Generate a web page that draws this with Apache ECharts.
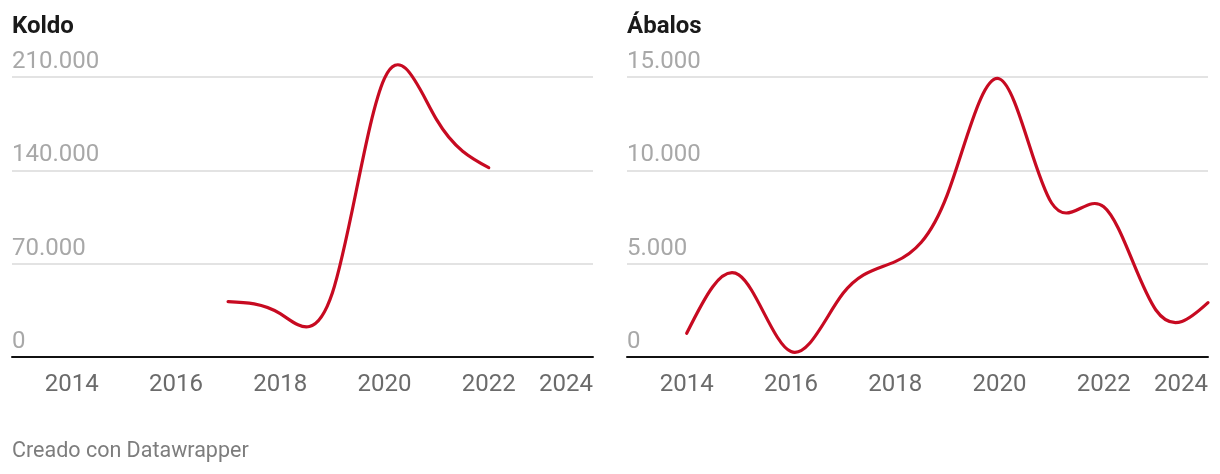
<!DOCTYPE html>
<html>
<head>
<meta charset="utf-8">
<script src="https://cdn.jsdelivr.net/npm/echarts@6/dist/echarts.min.js"></script>
<style>
  html, body { margin: 0; padding: 0; background: #ffffff; }
  #chart { width: 1220px; height: 474px; }
</style>
</head>
<body>
<div id="chart"></div>
<script>
// ---- data ----
const panelTitles = ['Koldo', 'Ábalos'];
const xTickYears = [2014, 2016, 2018, 2020, 2022, 2024];
const koldoYears = [2017, 2018, 2019, 2020, 2021, 2022];
const koldoValues = [41500, 32500, 48000, 209000, 178000, 142000];
const abalosYears = [2014, 2015, 2016, 2017, 2018, 2019, 2020, 2021, 2022, 2023, 2024];
const abalosValues = [1270, 4400, 290, 3410, 5110, 8700, 14900, 8250, 8050, 2520, 2910];
const koldoYMax = 210000, koldoYStep = 70000;
const abalosYMax = 15000, abalosYStep = 5000;
const footerText = 'Creado con Datawrapper';

// ---- helpers ----
const FONT = 'Roboto, "Noto Sans", sans-serif';
const RED = '#c70a21';
function fmt(v) {
  return String(Math.round(v)).replace(/\B(?=(\d{3})+(?!\d))/g, '.');
}
function pairs(xs, ys) { return xs.map((x, i) => [x, ys[i]]); }

// natural cubic spline control points (same maths as d3.curveNatural)
function controlPoints(x) {
  const n = x.length - 1;
  const a = new Array(n), b = new Array(n), r = new Array(n);
  a[0] = 0; b[0] = 2; r[0] = x[0] + 2 * x[1];
  for (let i = 1; i < n - 1; ++i) { a[i] = 1; b[i] = 4; r[i] = 4 * x[i] + 2 * x[i + 1]; }
  a[n - 1] = 2; b[n - 1] = 7; r[n - 1] = 8 * x[n - 1] + x[n];
  for (let i = 1; i < n; ++i) { const m = a[i] / b[i - 1]; b[i] -= m; r[i] -= m * r[i - 1]; }
  a[n - 1] = r[n - 1] / b[n - 1];
  for (let i = n - 2; i >= 0; --i) a[i] = (r[i] - a[i + 1]) / b[i];
  b[n - 1] = (x[n] + a[n - 1]) / 2;
  for (let i = 0; i < n - 1; ++i) b[i] = 2 * x[i + 1] - a[i + 1];
  return [a, b];
}

function naturalRenderer(xs, ys) {
  return function (params, api) {
    if (params.dataIndex !== 0) return null;
    const pts = xs.map((x, i) => api.coord([x, ys[i]]));
    const px = pts.map(p => p[0]), py = pts.map(p => p[1]);
    let d = 'M' + px[0] + ',' + py[0];
    if (pts.length === 2) {
      d += 'L' + px[1] + ',' + py[1];
    } else if (pts.length > 2) {
      const cx = controlPoints(px), cy = controlPoints(py);
      for (let i = 0; i < pts.length - 1; i++) {
        d += 'C' + cx[0][i] + ',' + cy[0][i] + ',' + cx[1][i] + ',' + cy[1][i] + ',' + px[i + 1] + ',' + py[i + 1];
      }
    }
    return {
      type: 'path',
      shape: { pathData: d },
      style: { stroke: RED, lineWidth: 3.2, fill: null, lineCap: 'round', lineJoin: 'round' },
      silent: true
    };
  };
}

const X_MIN = 2012.855, X_MAX = 2024;

function makeX(gridIndex) {
  return {
    type: 'value', gridIndex: gridIndex, min: X_MIN, max: X_MAX,
    axisLine: { show: true, onZero: false, lineStyle: { color: '#111111', width: 2 } },
    axisTick: { show: false },
    splitLine: { show: false },
    axisLabel: {
      customValues: xTickYears,
      formatter: v => String(Math.round(v)),
      color: '#6b6b6b', fontSize: 24, fontFamily: FONT, margin: 16,
      alignMaxLabel: 'right', showMinLabel: true, showMaxLabel: true
    }
  };
}
function makeY(gridIndex, max, step) {
  return {
    type: 'value', gridIndex: gridIndex, min: 0, max: max, interval: step,
    axisLine: { show: false }, axisTick: { show: false },
    splitLine: { show: true, lineStyle: { color: '#e3e3e3', width: 2 } },
    axisLabel: {
      inside: true, margin: 0, verticalAlign: 'bottom', lineHeight: 30,
      color: '#a8a8a8', fontSize: 24, fontFamily: FONT,
      formatter: v => fmt(v)
    }
  };
}

const chart = echarts.init(document.getElementById('chart'), null, { renderer: 'canvas' });
chart.setOption({
  animation: false,
  backgroundColor: '#ffffff',
  title: [
    { text: panelTitles[0], left: 12, top: 15, padding: 0,
      textStyle: { fontFamily: FONT, fontWeight: 'bold', fontSize: 24, color: '#1a1a1a' } },
    { text: panelTitles[1], left: 627, top: 15, padding: 0,
      textStyle: { fontFamily: FONT, fontWeight: 'bold', fontSize: 24, color: '#1a1a1a' } },
    { text: footerText, left: 12, top: 441, padding: 0,
      textStyle: { fontFamily: FONT, fontWeight: 'normal', fontSize: 21.5, color: '#7d7d7d' } }
  ],
  grid: [
    { left: 12, top: 77, width: 581, height: 280, containLabel: false },
    { left: 627, top: 77, width: 581, height: 280, containLabel: false }
  ],
  xAxis: [makeX(0), makeX(1)],
  yAxis: [makeY(0, koldoYMax, koldoYStep), makeY(1, abalosYMax, abalosYStep)],
  series: [
    { type: 'custom', name: panelTitles[0], xAxisIndex: 0, yAxisIndex: 0,
      data: pairs(koldoYears, koldoValues), encode: { x: 0, y: 1 }, clip: false,
      renderItem: naturalRenderer(koldoYears, koldoValues) },
    { type: 'custom', name: panelTitles[1], xAxisIndex: 1, yAxisIndex: 1,
      data: pairs(abalosYears, abalosValues), encode: { x: 0, y: 1 }, clip: false,
      renderItem: naturalRenderer(abalosYears, abalosValues) }
  ]
});
</script>
</body>
</html>
